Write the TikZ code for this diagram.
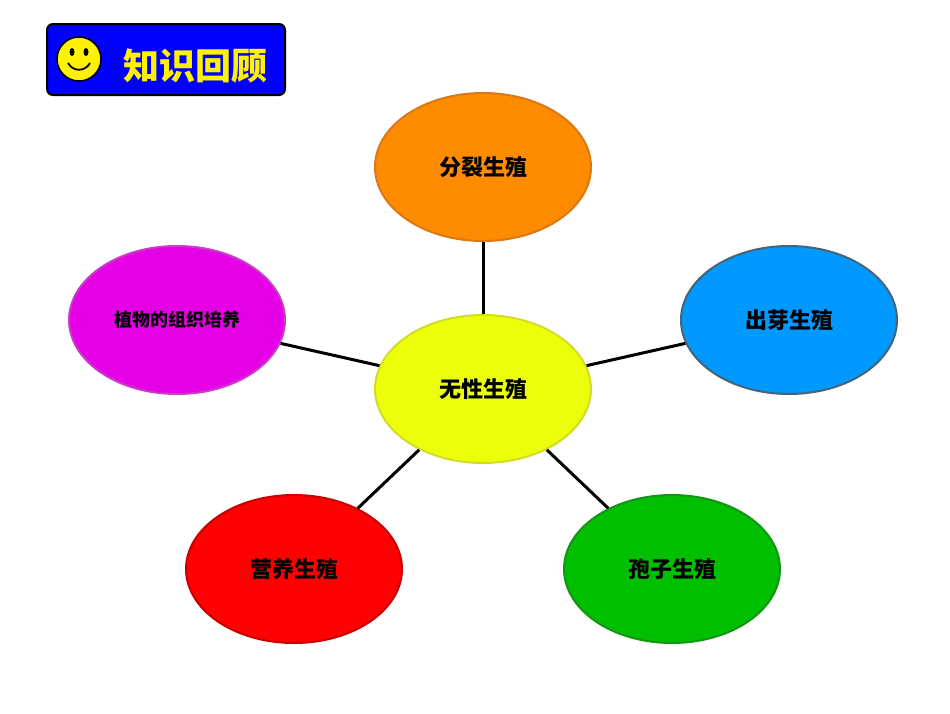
\documentclass[tikz,border=0pt]{standalone}
\usepackage{fontspec}
\newfontfamily\cjk{Noto Sans CJK SC}
\begin{document}
\begin{tikzpicture}[x=1pt,y=-1pt,
  ell/.style={ellipse,draw,line width=2pt,minimum width=216pt,minimum height=148pt,inner sep=0pt,font=\cjk\bfseries\fontsize{22}{24}\selectfont},
  link/.style={line width=3pt}]
\usetikzlibrary{shapes.geometric}
\useasboundingbox (0,0) rectangle (950,713);
\node[ell,fill={rgb,255:red,255;green,140;blue,0},draw={rgb,255:red,220;green,120;blue,20}] (top) at (483,167) {分裂生殖};
\node[ell,fill={rgb,255:red,236;green,255;blue,10},draw={rgb,255:red,210;green,220;blue,40}] (c) at (483,389) {无性生殖};
\node[ell,fill={rgb,255:red,230;green,0;blue,230},draw={rgb,255:red,200;green,60;blue,200},font=\cjk\bfseries\fontsize{18}{20}\selectfont] (l) at (177,320) {植物的组织培养};
\node[ell,fill={rgb,255:red,0;green,153;blue,255},draw={rgb,255:red,70;green,100;blue,120}] (r) at (789,320) {出芽生殖};
\node[ell,fill={rgb,255:red,255;green,0;blue,0},draw={rgb,255:red,200;green,0;blue,0}] (bl) at (294,569) {营养生殖};
\node[ell,fill={rgb,255:red,0;green,190;blue,0},draw={rgb,255:red,20;green,150;blue,20}] (br) at (672,569) {孢子生殖};
\draw[link] (c) -- (top);
\draw[link] (c) -- (l);
\draw[link] (c) -- (r);
\draw[link] (c) -- (bl);
\draw[link] (c) -- (br);
% header
\node[draw,line width=2pt,rounded corners=6pt,fill={rgb,255:red,0;green,0;blue,255},minimum width=238pt,minimum height=71pt,inner sep=0pt] (hdr) at (166,59.5) {};
\node[circle,draw,line width=1.5pt,fill=yellow,minimum size=44pt,inner sep=0pt] (smile) at (79,59) {};
\fill (72,52) ellipse (2.5 and 4);
\fill (86,52) ellipse (2.5 and 4);
\draw[line width=1.8pt] (68,63) .. controls (73,72) and (85,72) .. (90,63);
\node[font=\cjk\bfseries\fontsize{36}{38}\selectfont,text=yellow,draw=none] (title) at (195,66) {知识回顾};
\end{tikzpicture}
\end{document}
